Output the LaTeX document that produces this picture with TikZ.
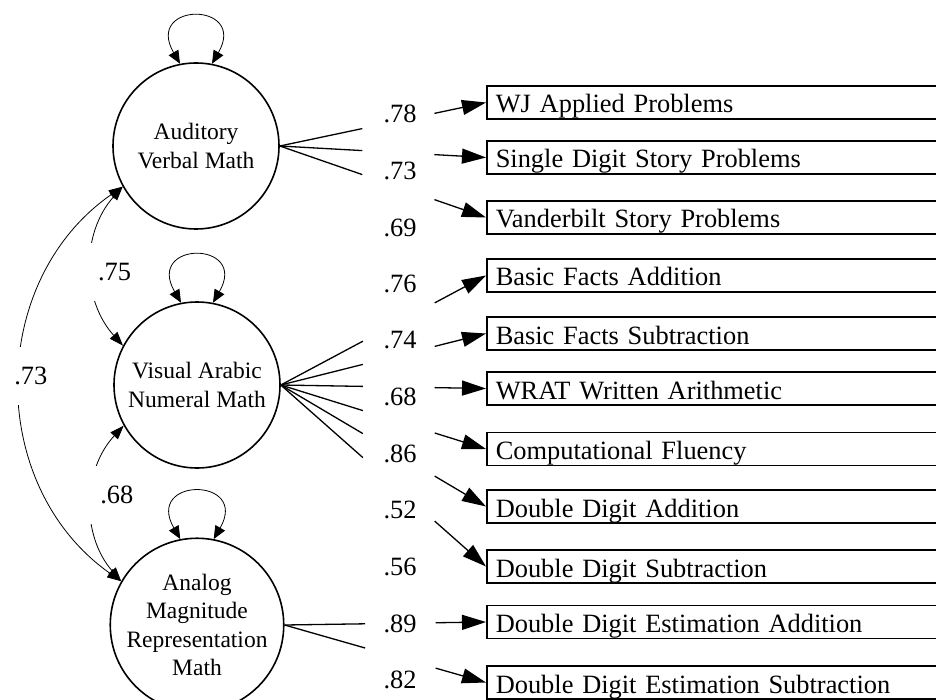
\documentclass[tikz,border=0pt]{standalone}
\usepackage{fontspec}
\setmainfont{Liberation Serif}
\usetikzlibrary{arrows.meta, calc, positioning}

\begin{document}
\begin{tikzpicture}[x=1pt, y=1pt,% styles used in image code
factor/.style = {circle, draw, line width=1.6pt, minimum size=166pt,
                 inner sep=0pt, align=center,
                 font=\fontsize{23.5}{28.5}\selectfont},
measure/.style = {draw, line width=1.5pt, anchor=west,
                  text width=502pt, align=left, inner xsep=9pt,
                  inner ysep=0pt, text height=27pt, text depth=6pt,
                  font=\fontsize{26.4}{30}\selectfont},
load/.style = {line width=1.3pt, -{Triangle[length=24pt, width=15pt]}},
cov/.style = {line width=0.8pt,
              {Triangle[length=14pt, width=10pt]}-{Triangle[length=14pt, width=10pt]}},
selfvar/.style = {line width=0.8pt,
              {Triangle[length=13pt, width=11pt]}-{Triangle[length=13pt, width=11pt]}},
coef/.style = {anchor=base, inner sep=0pt, font=\fontsize{26.4}{30}\selectfont},
gap/.style = {fill=white, minimum width=64pt, minimum height=58pt,
              inner sep=0pt, font=\fontsize{26.4}{30}\selectfont}
                    ]
    \useasboundingbox (0,0) rectangle (936,-700);
    \clip (0,0) rectangle (936,-700);

	% factors
	\node[factor] (avm)  at (196,-146) {Auditory\\Verbal Math};
	\node[factor] (vanm) at (197,-385) {Visual Arabic\\Numeral Math};
	\node[factor] (amrm) at (197,-625) {Analog\\Magnitude\\Representation\\Math};

	% indicators
	\node[measure] (wj)   at (486,-102.5) {WJ Applied Problems};
	\node[measure] (sdsp) at (486,-157.5) {Single Digit Story Problems};
	\node[measure] (vsp)  at (486,-217.5) {Vanderbilt Story Problems};
	\node[measure] (bfa)  at (486,-275.5) {Basic Facts Addition};
	\node[measure] (bfs)  at (486,-333.5) {Basic Facts Subtraction};
	\node[measure] (wrat) at (486,-388.5) {WRAT Written Arithmetic};
	\node[measure] (cf)   at (486,-449)   {Computational Fluency};
	\node[measure] (dda)  at (486,-506.5) {Double Digit Addition};
	\node[measure] (dds)  at (486,-566.5) {Double Digit Subtraction};
	\node[measure] (ddea) at (486,-622)   {Double Digit Estimation Addition};
	\node[measure] (ddes) at (486,-682.5) {Double Digit Estimation Subtraction};

	% residual variances
	\draw[selfvar] (avm.101)  to[out=120, in=60, distance=72pt] (avm.79);
	\draw[selfvar] (vanm.101) to[out=120, in=60, distance=72pt] (vanm.79);
	\draw[selfvar] (amrm.101) to[out=120, in=60, distance=72pt] (amrm.79);

	% loadings, broken where the coefficients stand
	\draw[load] (avm.east) -- ($(avm.east)!.40!(wj.west)$)   ($(avm.east)!.75!(wj.west)$) -- (wj.west);
	\draw[load] (avm.east) -- ($(avm.east)!.40!(sdsp.west)$) ($(avm.east)!.75!(sdsp.west)$) -- (sdsp.west);
	\draw[load] (avm.east) -- ($(avm.east)!.40!(vsp.west)$)  ($(avm.east)!.75!(vsp.west)$) -- (vsp.west);

	\draw[load] (vanm.east) -- ($(vanm.east)!.40!(bfa.west)$)  ($(vanm.east)!.75!(bfa.west)$) -- (bfa.west);
	\draw[load] (vanm.east) -- ($(vanm.east)!.40!(bfs.west)$)  ($(vanm.east)!.75!(bfs.west)$) -- (bfs.west);
	\draw[load] (vanm.east) -- ($(vanm.east)!.40!(wrat.west)$) ($(vanm.east)!.75!(wrat.west)$) -- (wrat.west);
	\draw[load] (vanm.east) -- ($(vanm.east)!.40!(cf.west)$)   ($(vanm.east)!.75!(cf.west)$) -- (cf.west);
	\draw[load] (vanm.east) -- ($(vanm.east)!.40!(dda.west)$)  ($(vanm.east)!.75!(dda.west)$) -- (dda.west);
	\draw[load] (vanm.east) -- ($(vanm.east)!.40!(dds.west)$)  ($(vanm.east)!.75!(dds.west)$) -- (dds.west);

	\draw[load] (amrm.east) -- ($(amrm.east)!.40!(ddea.west)$) ($(amrm.east)!.75!(ddea.west)$) -- (ddea.west);
	\draw[load] (amrm.east) -- ($(amrm.east)!.40!(ddes.west)$) ($(amrm.east)!.75!(ddes.west)$) -- (ddes.west);

	% coefficients
	\node[coef] (c-wj)   at (400,-123) {.78};
	\node[coef] (c-sdsp) at (400,-180) {.73};
	\node[coef] (c-vsp)  at (400,-237) {.69};
	\node[coef] (c-bfa)  at (400,-293) {.76};
	\node[coef] (c-bfs)  at (400,-348) {.74};
	\node[coef] (c-wrat) at (400,-405) {.68};
	\node[coef] (c-cf)   at (400,-462) {.86};
	\node[coef] (c-dda)  at (400,-518) {.52};
	\node[coef] (c-dds)  at (400,-575) {.56};
	\node[coef] (c-ddea) at (400,-632) {.89};
	\node[coef] (c-ddes) at (400,-688) {.82};

	% correlations between factors
	\draw[cov] (avm.209) to[bend right=42]
	    node[gap, xshift=23pt, yshift=-5.5pt] (r-av) {.75} (vanm.152);
	\draw[cov] (vanm.209) to[bend right=42]
	    node[gap, xshift=25pt, yshift=8pt] (r-va) {.68} (amrm.150);
	\draw[cov] (avm.209) to[bend right=55, looseness=1.07]
	    node[gap, xshift=10.5pt, yshift=8pt] (r-aa) {.73} (amrm.150);
\end{tikzpicture}
\end{document}
